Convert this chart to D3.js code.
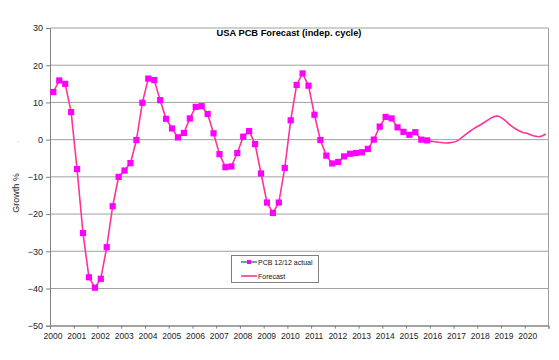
<!DOCTYPE html>
<html><head><meta charset="utf-8">
<script src="https://cdn.jsdelivr.net/npm/d3@7"></script>
<style>body{margin:0;background:#fff}svg{display:block}text{font-family:"Liberation Sans",Arial,sans-serif}</style>
</head><body><svg id="c" width="559" height="360"></svg>
<script>
// Quarterly data, first quarter starting early 2000
const firstQuarter = 2000.14;
const actual = [12.8,15.9,15.0,7.4,-7.9,-25.1,-37.0,-39.8,-37.4,-28.9,-17.9,-10.0,
  -8.3,-6.3,-0.1,9.9,16.4,16.0,10.6,5.6,3.0,0.6,1.8,5.7,8.8,9.0,6.9,1.7,-3.9,-7.4,-7.2,
  -3.6,0.8,2.3,-1.2,-9.1,-16.9,-19.7,-16.9,-7.6,5.2,14.7,17.8,14.5,6.7,-0.1,-4.3,-6.4,
  -6.0,-4.5,-3.8,-3.6,-3.4,-2.5,0.0,3.5,6.1,5.7,3.3,2.1,1.3,2.0,0.0,-0.2];
const forecastStart = 63; // quarter index where forecast begins
const forecast = [-0.2,-0.5,-0.7,-0.9,-0.8,-0.4,0.8,2.0,3.1,4.0,5.0,6.0,6.3,5.3,3.9,2.8,2.0,1.6,1.0,0.8,1.5];
const yTicks = [30,20,10,0,-10,-20,-30,-40,-50];
const xTicks = d3.range(2000, 2021);
const title = "USA PCB Forecast (indep. cycle)";
const yTitle = "Growth  %";
const legendLabels = ["PCB 12/12 actual", "Forecast"];

const svg = d3.select("#c");
const L = 50, R = 548.5, T = 28, B = 325.7;
const x = d3.scaleLinear().domain([2000, 2021]).range([L, R]);
const y = d3.scaleLinear().domain([-50, 30]).range([B, T]);
const pink = "#ff3399", mag = "#ff00ff", teal = "#2a9d8f";

// gridlines
svg.append("g").selectAll("line").data(yTicks).join("line")
  .attr("x1", L).attr("x2", R).attr("y1", d => y(d)).attr("y2", d => y(d))
  .attr("stroke", "#a0a0a0").attr("stroke-width", 1);
// right border
svg.append("line").attr("x1", R).attr("x2", R).attr("y1", T).attr("y2", B).attr("stroke", "#a0a0a0");

// y axis
const ya = svg.append("g").attr("transform", `translate(${L},0)`)
  .call(d3.axisLeft(y).tickValues(yTicks).tickSize(4).tickPadding(3));
ya.select(".domain").attr("stroke", "#808080");
ya.selectAll(".tick line").attr("stroke", "#808080");
ya.selectAll("text").attr("font-size", 9).attr("fill", "#222");

// x axis
const xa = svg.append("g").attr("transform", `translate(0,${B})`)
  .call(d3.axisBottom(x).tickValues(d3.range(2000, 2022)).tickSize(3).tickFormat(""));
xa.select(".domain").attr("stroke", "#808080");
xa.selectAll(".tick line").attr("stroke", "#808080");
svg.append("g").selectAll("text").data(xTicks).join("text")
  .attr("x", d => x(d) + 3).attr("y", B + 13).attr("text-anchor", "middle")
  .attr("font-size", 8.5).attr("fill", "#222").text(d => d);

// title
svg.append("text").attr("x", 289).attr("y", 36).attr("text-anchor", "middle")
  .attr("font-size", 9.3).attr("font-weight", "bold").attr("fill", "#000").text(title);
// y title
svg.append("text").attr("transform", "translate(19,193) rotate(-90)").attr("text-anchor", "middle")
  .attr("font-size", 9).attr("fill", "#222").text(yTitle);
svg.append("text").attr("x", 18).attr("y", 144).attr("text-anchor", "middle")
  .attr("font-size", 7).attr("fill", "#999").text("·");

const qx = i => x(firstQuarter + i * 0.25);
// forecast line
const fl = d3.line().x((d, i) => qx(forecastStart + i)).y(d => y(d)).curve(d3.curveCatmullRom);
svg.append("path").attr("d", fl(forecast)).attr("fill", "none").attr("stroke", pink).attr("stroke-width", 1.6);
// actual line
const al = d3.line().x((d, i) => qx(i)).y(d => y(d));
svg.append("path").attr("d", al(actual)).attr("fill", "none").attr("stroke", pink).attr("stroke-width", 1.6);
// markers
const ms = 6.2;
svg.append("g").selectAll("rect").data(actual).join("rect")
  .attr("x", (d, i) => qx(i) - ms / 2).attr("y", d => y(d) - ms / 2)
  .attr("width", ms).attr("height", ms).attr("fill", mag);

// legend
const lg = svg.append("g");
lg.append("rect").attr("x", 231.5).attr("y", 255.5).attr("width", 87).attr("height", 27)
  .attr("fill", "#fff").attr("stroke", "#808080");
lg.append("line").attr("x1", 241).attr("x2", 257).attr("y1", 262).attr("y2", 262).attr("stroke", teal).attr("stroke-width", 1.6);
lg.append("rect").attr("x", 247).attr("y", 260).attr("width", 4).attr("height", 4).attr("fill", mag);
lg.append("line").attr("x1", 241).attr("x2", 257).attr("y1", 276).attr("y2", 276).attr("stroke", pink).attr("stroke-width", 1.6);
lg.selectAll("text.l").data(legendLabels).join("text").attr("class", "l")
  .attr("x", 258).attr("y", (d, i) => 265 + i * 14).attr("font-size", 7).attr("fill", "#111").text(d => d);
</script></body></html>
